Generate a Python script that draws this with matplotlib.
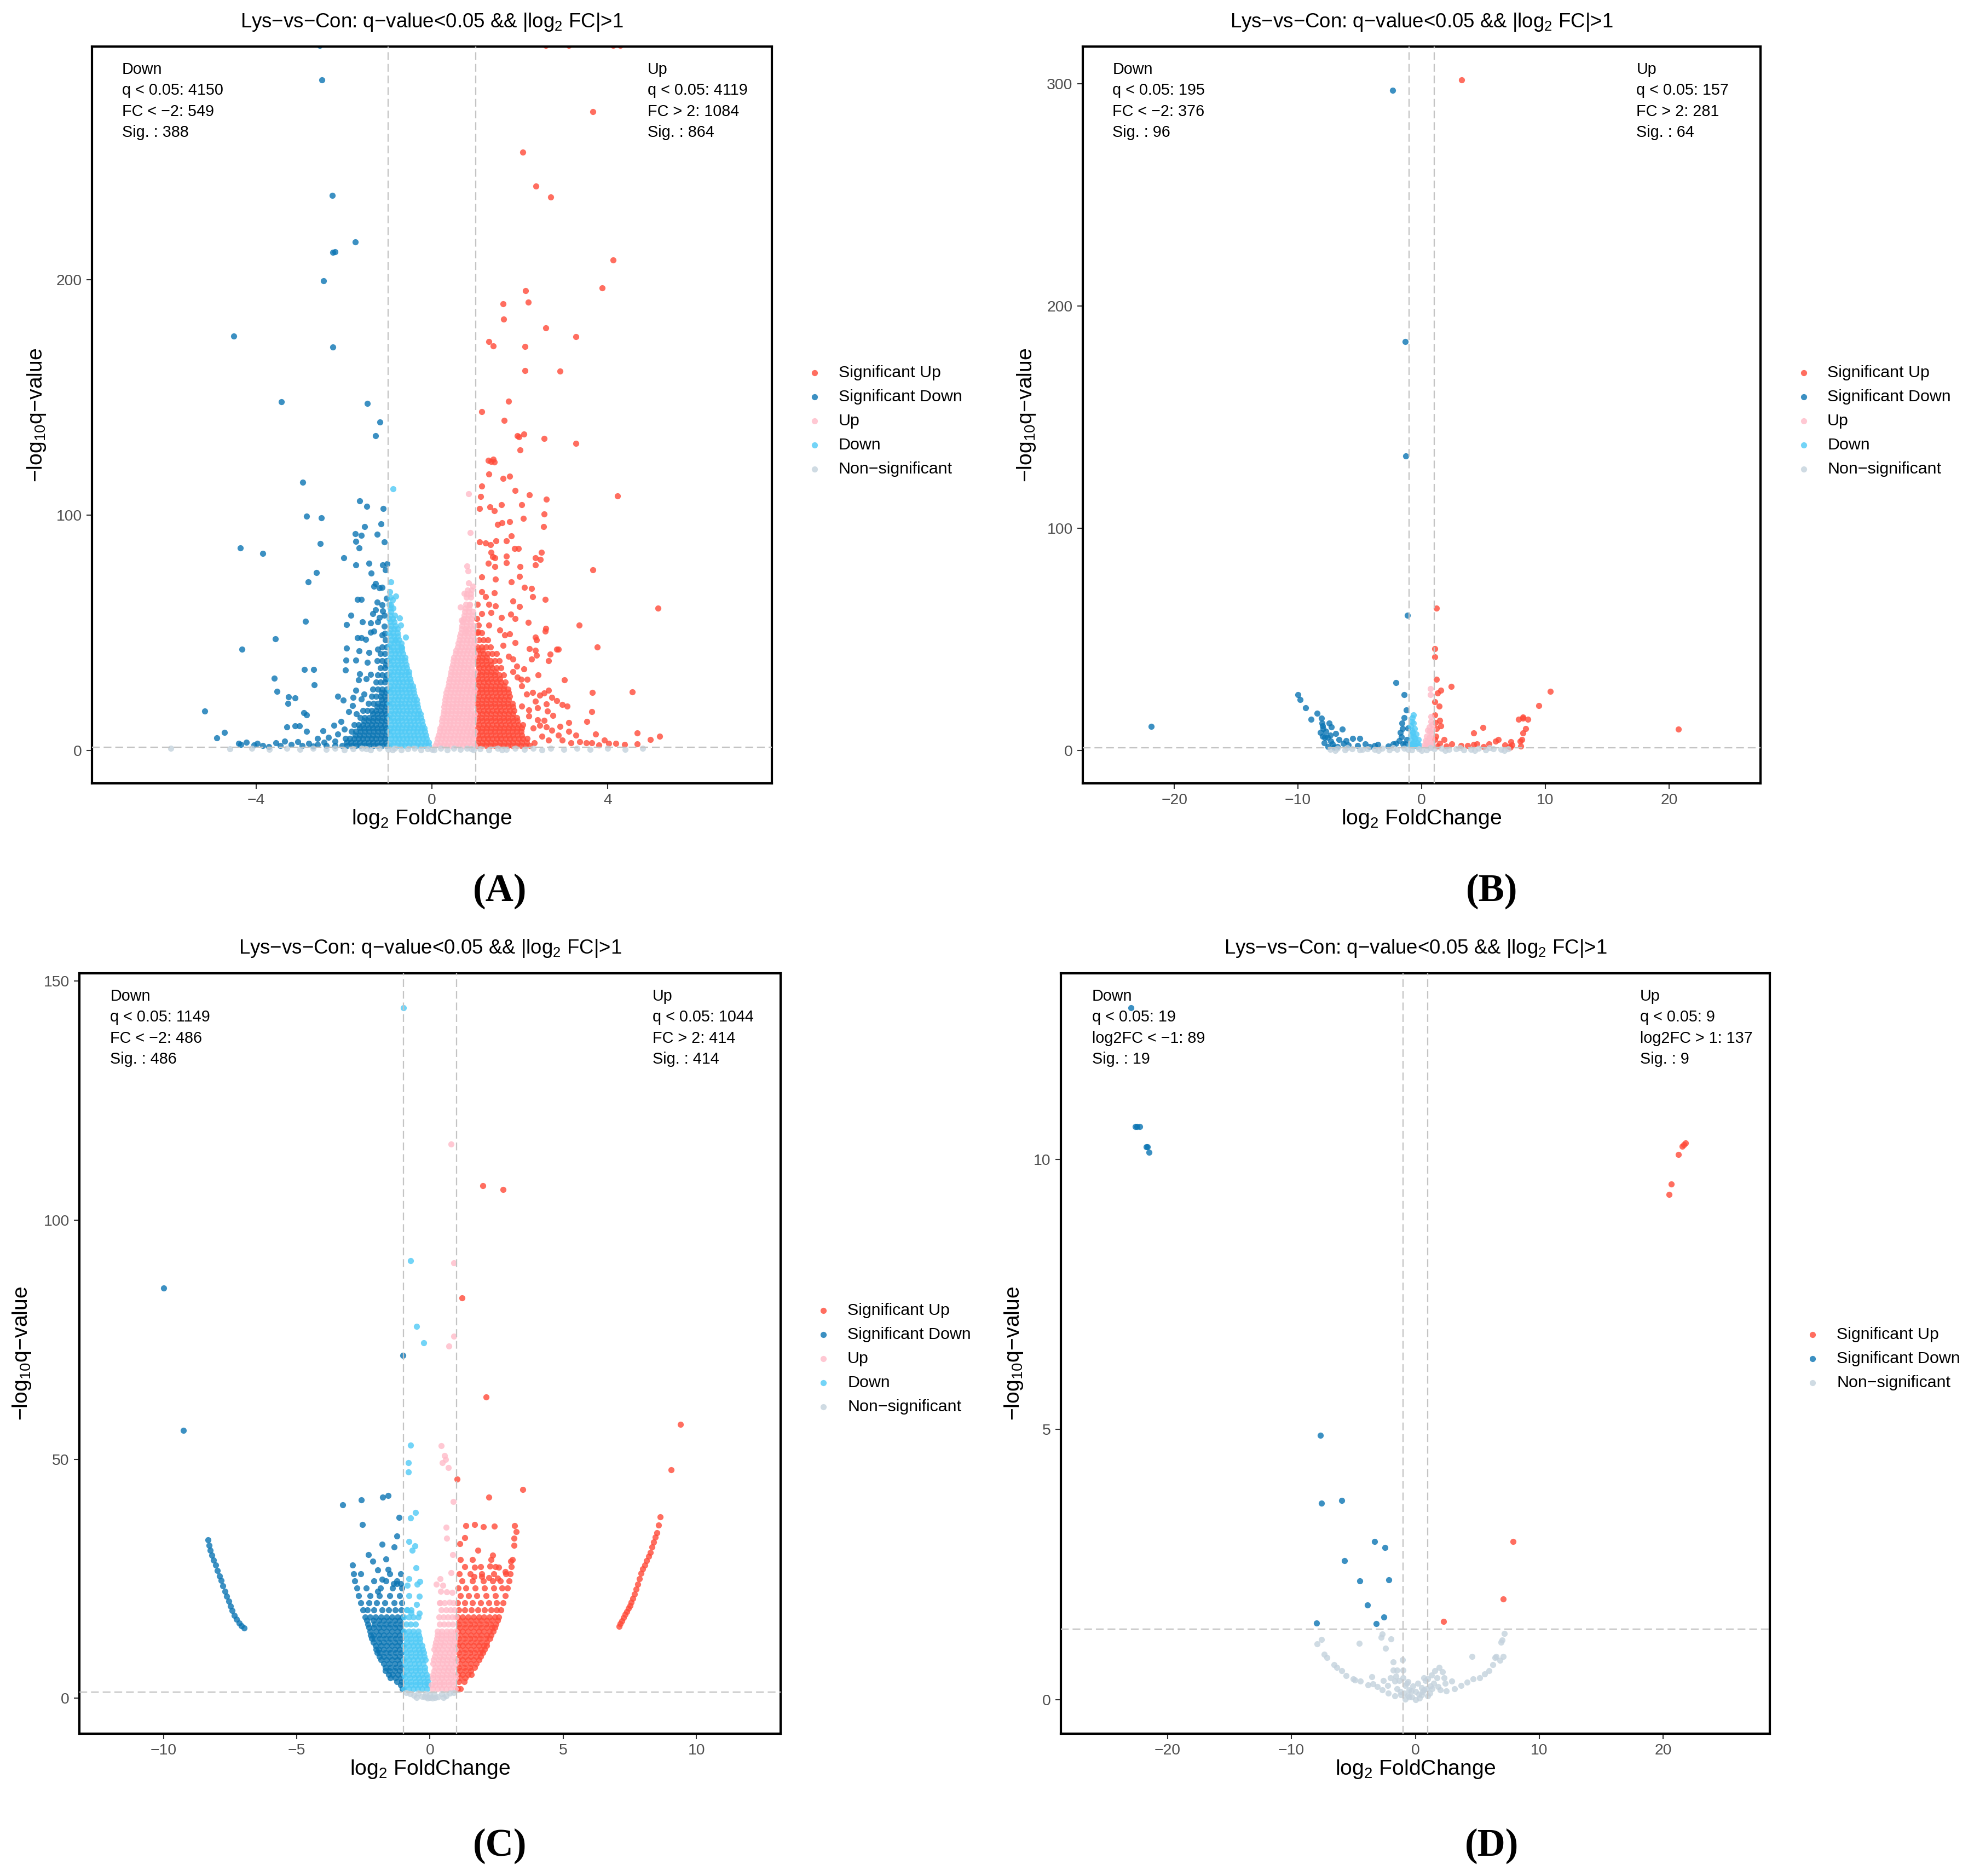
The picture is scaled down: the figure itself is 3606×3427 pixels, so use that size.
"""
Quatro volcano plots (Lys-vs-Con) montados numa figura só, painéis (A)-(D).
Os pontos foram lidos a olho da figura original: pontos isolados como (x, y)
e as nuvens densas como faixas (y, [x, x, ...]).

Saída: out.png
"""

import matplotlib.pyplot as plt
from matplotlib.lines import Line2D

# ------------------------------------------------------------------
# Painel A
# ------------------------------------------------------------------
A_SIG_UP = [
    (2.59, 299.5), (3.12, 299.5), (4.12, 299.5), (4.29, 299.5),
    (3.66, 271.4), (2.07, 254.1), (2.37, 239.6), (2.70, 235.1),
    (4.13, 208.3), (3.88, 196.4), (2.13, 195.3), (2.19, 190.3),
    (1.62, 189.8), (1.63, 183.2), (2.59, 179.4), (3.28, 175.8),
    (1.30, 173.7), (1.40, 171.8), (2.12, 171.5), (2.12, 161.3),
    (2.92, 161.1), (1.75, 148.4), (1.14, 143.9), (1.64, 140.2),
    (1.95, 133.6), (2.09, 134.3), (1.98, 133.3), (2.55, 132.5),
    (3.28, 130.5), (2.01, 127.7), (1.28, 123.1), (1.39, 123.7),
    (1.34, 122.8), (1.42, 122.4), (1.30, 117.5), (1.62, 115.6),
    (1.77, 116.4), (1.14, 112.3), (1.90, 110.4), (1.11, 107.9),
    (4.23, 108.0), (2.22, 108.5), (2.61, 106.7), (1.09, 102.7),
    (1.32, 103.4), (1.42, 101.8), (1.58, 104.3), (2.04, 104.3),
    (2.55, 100.4), (2.08, 98.6), (1.50, 95.9), (1.60, 96.8),
    (1.77, 97.2), (2.54, 95.1), (1.09, 88.5), (1.22, 88.0),
    (1.33, 87.4), (1.46, 89.0), (1.70, 89.0), (1.81, 91.2),
    (1.88, 85.8), (1.97, 85.8), (1.35, 84.2), (1.38, 82.3),
    (1.43, 81.9), (1.70, 82.6), (2.49, 84.2), (2.35, 81.9),
    (2.47, 81.0), (3.66, 76.8), (1.28, 79.4), (1.43, 78.0),
    (1.70, 79.7), (2.01, 78.0), (2.35, 78.7), (1.14, 73.6),
    (1.44, 72.7), (1.81, 71.6), (1.99, 73.8), (2.11, 69.3),
    (2.27, 68.8), (2.29, 65.2), (2.58, 64.2), (1.13, 67.4),
    (1.42, 67.0), (1.22, 65.2), (1.03, 62.0), (1.30, 62.0),
    (1.44, 61.3), (1.84, 63.4), (2.00, 61.2), (5.15, 60.4),
    (1.14, 58.1), (1.35, 58.6), (1.58, 56.5), (1.79, 57.8),
    (1.89, 55.9), (2.19, 54.4), (2.59, 51.7), (2.58, 50.6),
    (3.35, 53.1), (1.06, 53.3), (1.30, 53.3), (1.54, 51.2),
    (1.66, 49.0), (1.77, 49.6), (2.35, 48.0), (2.38, 46.9),
    (1.90, 45.8), (3.76, 44.0), (2.84, 42.9), (2.88, 42.9),
    (2.69, 40.8), (2.65, 38.2), (2.22, 43.2), (2.36, 42.6),
    (2.38, 40.5), (2.27, 38.9), (1.85, 38.9), (2.09, 34.6),
    (1.93, 35.7), (3.01, 29.9), (2.42, 32.0), (2.03, 30.1),
    (2.17, 30.1), (3.65, 24.7), (4.56, 24.9), (2.66, 25.6),
    (2.45, 23.5), (2.29, 24.5), (2.55, 24.3), (2.73, 22.4),
    (2.84, 21.1), (2.96, 19.4), (3.08, 18.7), (2.61, 19.7),
    (2.41, 18.1), (2.21, 17.1), (2.05, 18.7), (3.64, 16.5),
    (2.63, 16.8), (2.75, 14.9), (2.55, 12.8), (2.45, 10.7),
    (3.53, 12.3), (3.12, 11.7), (2.92, 10.1), (3.12, 8.0),
    (2.73, 8.5), (2.88, 6.4), (3.73, 6.9), (3.93, 4.3),
    (4.03, 3.0), (4.19, 3.0), (4.39, 2.6), (4.67, 2.7),
    (4.67, 7.5), (4.97, 4.5), (5.18, 5.9), (3.28, 6.4),
    (3.36, 3.7), (3.52, 3.2), (3.64, 3.2), (3.80, 2.3),
    (2.96, 4.3), (3.16, 3.2), (2.65, 4.3), (2.33, 3.2),
    (2.30, 9.5), (2.40, 13.0), (2.20, 14.5), (2.50, 6.0),
    (2.60, 10.0), (2.35, 21.0), (2.15, 24.0), (2.05, 27.5),
    (1.95, 31.0), (1.85, 33.5), (1.75, 40.0), (1.62, 44.5),
    (1.02, 56.0), (1.05, 50.5),
]
A_SIG_UP_FAIXAS = [
    (2, [1.03, 1.13, 1.23, 1.33, 1.43, 1.53, 1.63, 1.73, 1.83, 1.93, 2.03, 2.13, 2.23]),
    (3.5, [1.05, 1.15, 1.25, 1.35, 1.45, 1.55, 1.65, 1.75, 1.85, 1.95, 2.05, 2.15]),
    (5, [1.07, 1.17, 1.27, 1.37, 1.47, 1.57, 1.67, 1.77, 1.87, 1.97, 2.07, 2.17]),
    (6.5, [1.05, 1.15, 1.25, 1.35, 1.45, 1.55, 1.65, 1.75, 1.85, 1.95, 2.05]),
    (8, [1.03, 1.13, 1.23, 1.33, 1.43, 1.53, 1.63, 1.73, 1.83, 1.93, 2.03]),
    (9.5, [1.05, 1.15, 1.25, 1.35, 1.45, 1.55, 1.65, 1.75, 1.85, 1.95, 2.05]),
    (11, [1.07, 1.17, 1.27, 1.37, 1.47, 1.57, 1.67, 1.77, 1.87, 1.97, 2.07]),
    (12.5, [1.05, 1.15, 1.25, 1.35, 1.45, 1.55, 1.65, 1.75, 1.85, 1.95]),
    (14, [1.03, 1.13, 1.23, 1.33, 1.43, 1.53, 1.63, 1.73, 1.83, 1.93]),
    (15.5, [1.05, 1.15, 1.25, 1.35, 1.45, 1.55, 1.65, 1.75, 1.85]),
    (17, [1.07, 1.17, 1.27, 1.37, 1.47, 1.57, 1.67, 1.77, 1.87]),
    (18.5, [1.05, 1.15, 1.25, 1.35, 1.45, 1.55, 1.65, 1.75, 1.85]),
    (20, [1.03, 1.13, 1.23, 1.33, 1.43, 1.53, 1.63, 1.73, 1.83]),
    (21.5, [1.05, 1.15, 1.25, 1.35, 1.45, 1.55, 1.65, 1.75]),
    (23, [1.07, 1.17, 1.27, 1.37, 1.47, 1.57, 1.67, 1.77]),
    (24.5, [1.05, 1.15, 1.25, 1.35, 1.45, 1.55, 1.65, 1.75]),
    (26, [1.03, 1.13, 1.23, 1.33, 1.43, 1.53, 1.63, 1.73]),
    (27.5, [1.05, 1.15, 1.25, 1.35, 1.45, 1.55, 1.65]),
    (29, [1.07, 1.17, 1.27, 1.37, 1.47, 1.57, 1.67]),
    (30.5, [1.05, 1.15, 1.25, 1.35, 1.45, 1.55]),
    (32, [1.03, 1.13, 1.23, 1.33, 1.43, 1.53, 1.63]),
    (33.5, [1.05, 1.15, 1.25, 1.35, 1.45]),
    (35, [1.07, 1.17, 1.27, 1.37, 1.47, 1.57]),
    (36.5, [1.05, 1.15, 1.25, 1.35]),
    (38, [1.03, 1.13, 1.23, 1.33, 1.43, 1.53]),
    (39.5, [1.05, 1.15, 1.25]),
    (41, [1.07, 1.17, 1.27, 1.37, 1.47]),
    (42.5, [1.05, 1.15]),
    (44, [1.03, 1.13, 1.23, 1.33]),
    (47, [1.07, 1.17, 1.27]),
    (50, [1.03, 1.13]),
]

A_SIG_DOWN = [
    (-2.56, 299.5), (-2.50, 284.9), (-2.27, 235.8), (-1.75, 216.1),
    (-2.25, 211.6), (-2.21, 211.9), (-2.47, 199.5), (-4.51, 176.0),
    (-2.25, 171.3), (-3.43, 148.0), (-1.47, 147.4), (-1.18, 139.4),
    (-1.28, 133.7), (-2.94, 113.8), (-1.65, 106.0), (-1.48, 103.6),
    (-1.11, 102.8), (-2.85, 99.5), (-2.52, 98.9), (-1.53, 95.1),
    (-1.16, 96.3), (-1.75, 92.0), (-1.61, 91.3), (-1.25, 91.9),
    (-1.73, 88.7), (-1.09, 88.6), (-2.54, 87.8), (-1.66, 86.0),
    (-4.36, 85.9), (-3.85, 83.7), (-2.01, 81.9), (-1.73, 78.7),
    (-1.43, 79.4), (-1.12, 78.7), (-1.02, 79.3), (-1.06, 76.8),
    (-2.63, 75.5), (-2.82, 71.6), (-1.38, 75.2), (-1.32, 69.8),
    (-1.28, 70.9), (-1.14, 69.3), (-1.20, 69.0), (-1.70, 64.2),
    (-1.61, 64.2), (-1.04, 64.7), (-1.25, 62.9), (-1.14, 61.8),
    (-1.28, 59.7), (-1.34, 58.1), (-1.12, 59.2), (-1.09, 57.4),
    (-1.20, 56.5), (-2.88, 54.9), (-1.85, 57.5), (-1.94, 53.5),
    (-1.58, 54.6), (-1.39, 54.2), (-1.24, 54.6), (-1.09, 52.8),
    (-1.32, 50.6), (-1.39, 50.1), (-1.07, 49.7), (-1.14, 49.0),
    (-3.57, 47.4), (-1.70, 47.9), (-1.61, 47.8), (-1.51, 47.1),
    (-1.95, 43.5), (-1.66, 42.3), (-1.24, 43.0), (-4.33, 42.9),
    (-1.96, 38.4), (-1.73, 38.4), (-1.47, 37.3), (-1.43, 41.6),
    (-2.90, 34.4), (-2.69, 34.4), (-3.59, 30.6), (-2.68, 27.8),
    (-3.53, 25.0), (-3.27, 22.7), (-3.12, 22.2), (-3.28, 20.0),
    (-1.97, 34.1), (-1.65, 32.6), (-1.50, 30.4), (-1.67, 29.9),
    (-1.39, 32.2), (-2.14, 22.9), (-2.02, 21.3), (-1.80, 22.4),
    (-1.73, 25.5), (-1.61, 21.9), (-1.55, 24.0), (-5.17, 16.6),
    (-4.90, 5.3), (-4.72, 7.6), (-4.40, 3.0), (-4.23, 3.4),
    (-3.97, 3.0), (-3.71, 1.6), (-3.30, 10.0), (-3.12, 10.4),
    (-3.02, 10.5), (-2.85, 8.0), (-2.48, 8.4), (-2.92, 16.1),
    (-2.86, 15.0), (-2.23, 10.7), (-2.07, 12.3), (-1.89, 16.5),
    (-1.81, 19.0), (-1.72, 15.5), (-4.35, 2.5), (-4.05, 2.2),
    (-3.85, 2.0), (-3.55, 3.1), (-3.45, 2.0), (-3.35, 4.0),
    (-3.20, 2.5), (-3.05, 3.6), (-2.95, 2.0), (-2.80, 3.0),
    (-2.70, 1.8), (-2.60, 2.6), (-2.45, 3.5), (-2.35, 5.5),
    (-2.20, 4.0), (-2.15, 7.0), (-2.60, 5.0), (-2.00, 9.0),
]
A_SIG_DOWN_FAIXAS = [
    (2, [-1.03, -1.13, -1.23, -1.33, -1.43, -1.53, -1.63, -1.73, -1.83, -1.93, -2.05, -2.20, -2.40]),
    (3.5, [-1.05, -1.15, -1.25, -1.35, -1.45, -1.55, -1.65, -1.75, -1.85, -1.95]),
    (5, [-1.07, -1.17, -1.27, -1.37, -1.47, -1.57, -1.67, -1.77, -1.87, -1.97]),
    (6.5, [-1.05, -1.15, -1.25, -1.35, -1.45, -1.55, -1.65, -1.75]),
    (8, [-1.03, -1.13, -1.23, -1.33, -1.43, -1.53, -1.63, -1.73, -1.83]),
    (9.5, [-1.05, -1.15, -1.25, -1.35, -1.45, -1.55, -1.65]),
    (11, [-1.07, -1.17, -1.27, -1.37, -1.47, -1.57, -1.67, -1.77]),
    (12.5, [-1.05, -1.15, -1.25, -1.35, -1.45, -1.55]),
    (14, [-1.03, -1.13, -1.23, -1.33, -1.43, -1.53, -1.63]),
    (15.5, [-1.05, -1.15, -1.25, -1.35]),
    (17, [-1.07, -1.17, -1.27, -1.37, -1.47, -1.57]),
    (18.5, [-1.05, -1.15, -1.25]),
    (20, [-1.03, -1.13, -1.23, -1.33, -1.45]),
    (21.5, [-1.05, -1.15]),
    (23, [-1.07, -1.17, -1.27, -1.37]),
    (24.5, [-1.05, -1.15]),
    (26, [-1.03, -1.13, -1.23, -1.35]),
    (29, [-1.07, -1.17, -1.27]),
    (30.5, [-1.05]),
    (32, [-1.03, -1.13, -1.23]),
    (35, [-1.07, -1.17]),
    (36.5, [-1.05]),
    (38, [-1.03, -1.13, -1.25]),
    (41, [-1.07, -1.17]),
    (44, [-1.03, -1.13]),
    (47, [-1.06]),
]

A_UP = [
    (0.84, 109.0), (0.87, 92.5), (0.80, 78.4), (0.82, 76.2), (0.93, 69.8),
    (0.74, 66.6), (0.65, 60.8), (0.86, 61.8), (0.67, 55.4), (0.79, 50.6),
]
A_UP_FAIXAS = [
    (2, [0.08, 0.17, 0.26, 0.35, 0.44, 0.53, 0.62, 0.71, 0.80, 0.89, 0.97]),
    (3.5, [0.11, 0.20, 0.29, 0.38, 0.47, 0.56, 0.65, 0.74, 0.83, 0.92]),
    (5, [0.13, 0.22, 0.31, 0.40, 0.49, 0.58, 0.67, 0.76, 0.85, 0.94]),
    (6.5, [0.15, 0.24, 0.33, 0.42, 0.51, 0.60, 0.69, 0.78, 0.87, 0.96]),
    (8, [0.17, 0.26, 0.35, 0.44, 0.53, 0.62, 0.71, 0.80, 0.89, 0.97]),
    (9.5, [0.19, 0.28, 0.37, 0.46, 0.55, 0.64, 0.73, 0.82, 0.91]),
    (11, [0.22, 0.31, 0.40, 0.49, 0.58, 0.67, 0.76, 0.85, 0.94]),
    (12.5, [0.23, 0.32, 0.41, 0.50, 0.59, 0.68, 0.77, 0.86, 0.95]),
    (14, [0.24, 0.33, 0.42, 0.51, 0.60, 0.69, 0.78, 0.87, 0.96]),
    (15.5, [0.26, 0.35, 0.44, 0.53, 0.62, 0.71, 0.80, 0.89, 0.97]),
    (17, [0.27, 0.36, 0.45, 0.54, 0.63, 0.72, 0.81, 0.90]),
    (18.5, [0.28, 0.37, 0.46, 0.55, 0.64, 0.73, 0.82, 0.91]),
    (20, [0.29, 0.38, 0.47, 0.56, 0.65, 0.74, 0.83, 0.92]),
    (21.5, [0.30, 0.39, 0.48, 0.57, 0.66, 0.75, 0.84, 0.93]),
    (23, [0.31, 0.40, 0.49, 0.58, 0.67, 0.76, 0.85, 0.94]),
    (24.5, [0.33, 0.42, 0.51, 0.60, 0.69, 0.78, 0.87, 0.96]),
    (26, [0.35, 0.44, 0.53, 0.62, 0.71, 0.80, 0.89, 0.97]),
    (27.5, [0.37, 0.46, 0.55, 0.64, 0.73, 0.82, 0.91]),
    (29, [0.39, 0.48, 0.57, 0.66, 0.75, 0.84, 0.93]),
    (30.5, [0.40, 0.49, 0.58, 0.67, 0.76, 0.85, 0.94]),
    (32, [0.42, 0.51, 0.60, 0.69, 0.78, 0.87, 0.96]),
    (33.5, [0.43, 0.52, 0.61, 0.70, 0.79, 0.88, 0.97]),
    (35, [0.45, 0.54, 0.63, 0.72, 0.81, 0.90]),
    (36.5, [0.47, 0.56, 0.65, 0.74, 0.83, 0.92]),
    (38, [0.48, 0.57, 0.66, 0.75, 0.84, 0.93]),
    (39.5, [0.50, 0.59, 0.68, 0.77, 0.86, 0.95]),
    (41, [0.53, 0.62, 0.71, 0.80, 0.89, 0.97]),
    (42.5, [0.55, 0.64, 0.73, 0.82, 0.91]),
    (44, [0.58, 0.67, 0.76, 0.85, 0.94]),
    (45.5, [0.60, 0.69, 0.78, 0.87, 0.96]),
    (47, [0.62, 0.71, 0.80, 0.89, 0.97]),
    (48.5, [0.64, 0.73, 0.82, 0.91]),
    (50, [0.66, 0.75, 0.84, 0.93]),
    (51.5, [0.67, 0.76, 0.85, 0.94]),
    (53, [0.69, 0.78, 0.87, 0.96]),
    (54.5, [0.70, 0.79, 0.88]),
    (56, [0.72, 0.81, 0.90]),
    (57.5, [0.74, 0.83, 0.92]),
    (59, [0.75, 0.84, 0.93]),
    (60.5, [0.76, 0.85]),
    (62, [0.77, 0.86]),
    (65, [0.79, 0.88]),
    (66.5, [0.80, 0.89]),
    (68, [0.81, 0.90]),
    (71, [0.83]),
]

A_DOWN = [
    (-0.88, 111.1), (-0.94, 71.5), (-0.82, 65.6), (-0.94, 61.8), (-0.74, 56.3),
    (-0.71, 53.3), (-0.60, 48.0), (-0.84, 46.9), (-0.68, 43.7), (-0.96, 67.5),
    (-0.90, 64.0),
]
A_DOWN_FAIXAS = [
    (2, [-0.97, -0.88, -0.79, -0.70, -0.61, -0.52, -0.43, -0.34, -0.25, -0.16, -0.08]),
    (3.5, [-0.95, -0.86, -0.77, -0.68, -0.59, -0.50, -0.41, -0.32, -0.23, -0.14, -0.07]),
    (5, [-0.93, -0.84, -0.75, -0.66, -0.57, -0.48, -0.39, -0.30, -0.21, -0.12]),
    (6.5, [-0.95, -0.86, -0.77, -0.68, -0.59, -0.50, -0.41, -0.32, -0.23, -0.14]),
    (8, [-0.97, -0.88, -0.79, -0.70, -0.61, -0.52, -0.43, -0.34, -0.25, -0.16]),
    (9.5, [-0.95, -0.86, -0.77, -0.68, -0.59, -0.50, -0.41, -0.32, -0.23, -0.17]),
    (11, [-0.93, -0.84, -0.75, -0.66, -0.57, -0.48, -0.39, -0.30, -0.21]),
    (12.5, [-0.95, -0.86, -0.77, -0.68, -0.59, -0.50, -0.41, -0.32, -0.23]),
    (14, [-0.97, -0.88, -0.79, -0.70, -0.61, -0.52, -0.43, -0.34, -0.25]),
    (15.5, [-0.95, -0.86, -0.77, -0.68, -0.59, -0.50, -0.41, -0.32, -0.26]),
    (17, [-0.93, -0.84, -0.75, -0.66, -0.57, -0.48, -0.39, -0.30]),
    (18.5, [-0.95, -0.86, -0.77, -0.68, -0.59, -0.50, -0.41, -0.32]),
    (20, [-0.97, -0.88, -0.79, -0.70, -0.61, -0.52, -0.43, -0.34]),
    (21.5, [-0.95, -0.86, -0.77, -0.68, -0.59, -0.50, -0.41, -0.35]),
    (23, [-0.93, -0.84, -0.75, -0.66, -0.57, -0.48, -0.39]),
    (24.5, [-0.95, -0.86, -0.77, -0.68, -0.59, -0.50, -0.41]),
    (26, [-0.97, -0.88, -0.79, -0.70, -0.61, -0.52, -0.43]),
    (27.5, [-0.95, -0.86, -0.77, -0.68, -0.59, -0.50, -0.44]),
    (29, [-0.93, -0.84, -0.75, -0.66, -0.57, -0.48]),
    (30.5, [-0.95, -0.86, -0.77, -0.68, -0.59, -0.50]),
    (32, [-0.97, -0.88, -0.79, -0.70, -0.61, -0.52]),
    (33.5, [-0.95, -0.86, -0.77, -0.68, -0.59, -0.52]),
    (35, [-0.93, -0.84, -0.75, -0.66, -0.57]),
    (36.5, [-0.95, -0.86, -0.77, -0.68, -0.59]),
    (38, [-0.97, -0.88, -0.79, -0.70, -0.61]),
    (39.5, [-0.95, -0.86, -0.77, -0.68, -0.61]),
    (41, [-0.93, -0.84, -0.75, -0.66]),
    (42.5, [-0.95, -0.86, -0.77, -0.68]),
    (44, [-0.97, -0.88, -0.79, -0.70]),
    (45.5, [-0.95, -0.86, -0.77, -0.70]),
    (47, [-0.93, -0.84, -0.75]),
    (48.5, [-0.95, -0.86, -0.77]),
    (50, [-0.97, -0.88, -0.79]),
    (51.5, [-0.95, -0.86, -0.78]),
    (53, [-0.93, -0.84]),
    (54.5, [-0.95, -0.86]),
    (56, [-0.97, -0.88]),
    (57.5, [-0.95, -0.85]),
    (59, [-0.93]),
    (60.5, [-0.95, -0.88]),
    (62, [-0.97]),
    (65, [-0.95]),
]

A_NS = [
    (-5.95, 1.0), (-4.60, 0.6), (-4.10, 0.8), (-3.70, 0.5), (-3.30, 0.9),
    (-3.00, 0.4), (-2.70, 0.8), (-2.40, 0.5), (-2.20, 1.0), (-2.00, 0.3),
    (-1.80, 0.7), (-1.60, 1.0), (-1.40, 0.3), (-1.20, 0.8), (-1.00, 0.4),
    (-0.85, 0.9), (-0.70, 0.2), (-0.55, 0.6), (-0.40, 1.0), (-0.25, 0.3),
    (-0.10, 0.7), (0.05, 0.1), (0.20, 0.8), (0.35, 0.3), (0.50, 0.9),
    (0.65, 0.4), (0.80, 1.0), (0.95, 0.2), (1.10, 0.7), (1.30, 0.3),
    (1.50, 0.9), (1.70, 0.4), (1.90, 1.0), (2.10, 0.5), (2.30, 0.9),
    (2.50, 0.3), (2.70, 0.8), (3.00, 0.5), (3.30, 1.0), (3.60, 0.4),
    (4.00, 0.8), (4.40, 0.5), (4.80, 0.9), (-0.90, 0.1), (0.00, 0.5),
    (0.90, 0.6), (-1.50, 0.6), (1.60, 0.2),
]

# ------------------------------------------------------------------
# Painel B
# ------------------------------------------------------------------
B_SIG_UP = [
    (3.25, 301.7), (1.20, 64.1), (1.05, 45.8), (1.07, 42.1), (1.20, 32.0),
    (2.37, 28.8), (1.57, 27.0), (1.27, 25.9), (1.07, 21.9), (1.40, 20.0),
    (1.07, 16.0), (1.45, 13.6), (1.57, 11.1), (1.20, 9.9), (1.07, 4.9),
    (1.82, 4.8), (1.45, 3.3), (2.45, 2.9), (3.20, 2.1), (3.70, 2.2),
    (4.20, 2.6), (4.45, 2.9), (4.96, 10.3), (4.21, 7.8), (5.46, 2.9),
    (5.96, 4.1), (6.21, 4.8), (6.71, 2.5), (7.21, 3.9), (7.09, 1.6),
    (7.16, 1.4), (7.96, 4.1), (8.09, 4.9), (8.21, 7.8), (8.42, 9.9),
    (7.84, 14.0), (8.21, 14.4), (8.59, 14.0), (8.17, 15.0), (9.49, 20.1),
    (10.42, 26.5), (20.74, 9.6), (1.15, 6.5), (1.30, 2.0), (2.00, 2.0),
    (1.10, 12.5), (7.30, 2.5), (8.00, 2.0), (5.00, 1.8),
]
B_SIG_DOWN = [
    (-2.34, 297.2), (-1.32, 184.1), (-1.27, 132.5), (-1.13, 60.8),
    (-2.06, 30.6), (-1.43, 25.2), (-1.23, 18.1), (-1.43, 14.8),
    (-1.61, 12.2), (-1.56, 9.9), (-1.71, 8.1), (-1.66, 6.2),
    (-21.86, 10.8), (-10.00, 25.1), (-9.83, 22.8), (-9.40, 19.1),
    (-8.45, 16.7), (-8.95, 14.1), (-8.12, 14.4), (-8.07, 12.3),
    (-7.49, 12.2), (-7.32, 10.7), (-7.95, 9.9), (-6.40, 9.7),
    (-6.95, 7.6), (-8.02, 6.4), (-7.82, 5.8), (-7.37, 4.1),
    (-7.20, 2.9), (-5.56, 5.5), (-4.99, 5.3), (-6.32, 3.3),
    (-5.94, 2.5), (-5.19, 2.3), (-4.57, 2.9), (-3.81, 2.3),
    (-3.56, 2.6), (-2.31, 2.9), (-2.06, 3.3), (-1.31, 2.9),
    (-7.57, 1.6), (-6.82, 1.6), (-7.07, 1.5), (-8.00, 11.0),
    (-7.75, 8.5), (-7.60, 6.0), (-7.90, 3.5), (-8.20, 8.0),
    (-7.40, 7.0), (-6.70, 5.0), (-6.10, 4.5), (-1.80, 4.5),
    (-1.50, 3.0), (-1.20, 5.0), (-1.10, 10.0), (-2.70, 1.9), (-4.20, 1.8),
]
B_UP = [
    (0.70, 27.9), (0.72, 25.1), (0.75, 15.2), (0.82, 11.5), (0.50, 9.0),
    (0.65, 8.5), (0.80, 7.5), (0.40, 6.5), (0.60, 6.0), (0.85, 5.5),
    (0.45, 4.0), (0.70, 3.5), (0.90, 3.0), (0.35, 2.2), (0.55, 2.0),
    (0.80, 1.8), (0.60, 10.5), (0.90, 9.5), (0.75, 13.0), (0.20, 2.5),
    (0.30, 4.5),
]
B_DOWN = [
    (-0.76, 14.8), (-0.68, 12.3), (-0.90, 11.0), (-0.56, 9.9), (-0.80, 9.0),
    (-0.43, 7.4), (-0.90, 7.0), (-0.68, 6.5), (-0.85, 4.5), (-0.60, 4.0),
    (-0.35, 3.5), (-0.92, 2.5), (-0.72, 2.0), (-0.50, 2.2), (-0.30, 1.8),
    (-0.65, 16.0), (-0.80, 13.0), (-0.70, 8.0), (-0.55, 5.5), (-0.75, 3.0),
    (-0.20, 2.5), (-0.25, 5.0),
]
B_NS = [
    (-7.4, 0.5), (-6.8, 0.9), (-6.2, 0.3), (-5.6, 0.7), (-5.0, 0.2),
    (-4.4, 0.8), (-3.8, 0.4), (-3.2, 0.9), (-2.6, 0.2), (-2.0, 0.6),
    (-1.4, 1.0), (-0.8, 0.3), (-0.2, 0.8), (0.4, 0.2), (1.0, 0.7),
    (1.6, 1.0), (2.2, 0.4), (2.8, 0.8), (3.4, 0.2), (4.0, 0.6),
    (4.6, 1.0), (5.2, 0.3), (5.8, 0.8), (6.4, 0.4), (7.0, 0.7),
    (-7.0, 0.1), (-6.0, 1.1), (-4.8, 0.5), (-3.5, 0.1), (-2.3, 1.1),
    (-1.1, 0.6), (0.0, 0.1), (0.7, 1.2), (1.9, 0.1), (3.1, 1.1),
    (4.3, 0.1), (5.5, 1.1), (6.7, 0.1),
]

# ------------------------------------------------------------------
# Painel C
# ------------------------------------------------------------------
C_SIG_UP = [
    (1.98, 107.2), (2.74, 106.4), (1.20, 83.7), (2.10, 63.0), (3.48, 43.6),
    (2.21, 42.0), (1.02, 45.8), (1.35, 36.1), (1.68, 36.3), (2.01, 35.9),
    (2.41, 36.0), (3.18, 36.1), (3.23, 34.8), (3.15, 33.5), (3.15, 32.0),
    (1.31, 33.6), (1.13, 32.3), (1.79, 30.9), (2.36, 29.9), (3.03, 28.7),
    (1.68, 27.4), (2.25, 27.6), (2.58, 27.4), (2.82, 26.5), (1.65, 25.5),
    (1.94, 25.5), (2.21, 25.2), (2.54, 25.1),
    # arco da direita
    (7.10, 15.0), (7.15, 15.6), (7.20, 16.2), (7.26, 16.9), (7.32, 17.5),
    (7.38, 18.1), (7.44, 18.8), (7.50, 19.4), (7.56, 20.1), (7.62, 20.9),
    (7.68, 21.8), (7.74, 22.8), (7.80, 23.9), (7.86, 25.0), (7.92, 26.1),
    (7.99, 27.0), (8.06, 27.9), (8.13, 28.8), (8.20, 29.7), (8.27, 30.5),
    (8.34, 31.6), (8.40, 32.7), (8.46, 33.7), (8.51, 34.6), (8.57, 36.2),
    (8.63, 37.9), (9.06, 47.8), (9.39, 57.3),
]
C_SIG_UP_FAIXAS = [
    (2.0, [1.03, 1.15]),
    (3.5, [1.08, 1.28]),
    (4.25, [1.13, 1.33]),
    (5.0, [1.03, 1.23, 1.43, 1.55]),
    (5.75, [1.13, 1.33, 1.53]),
    (6.5, [1.08, 1.28, 1.48, 1.68]),
    (7.25, [1.13, 1.33, 1.53, 1.73]),
    (8.0, [1.03, 1.23, 1.43, 1.63, 1.83]),
    (8.75, [1.13, 1.33, 1.53, 1.73, 1.90]),
    (9.5, [1.08, 1.28, 1.48, 1.68, 1.88, 1.98]),
    (10.25, [1.13, 1.33, 1.53, 1.73, 1.93, 2.05]),
    (11.0, [1.03, 1.23, 1.43, 1.63, 1.83, 2.03, 2.13]),
    (11.75, [1.13, 1.33, 1.53, 1.73, 1.93, 2.13]),
    (12.5, [1.08, 1.28, 1.48, 1.68, 1.88, 2.08, 2.26]),
    (13.25, [1.13, 1.33, 1.53, 1.73, 1.93, 2.13, 2.30]),
    (14.0, [1.03, 1.23, 1.43, 1.63, 1.83, 2.03, 2.23, 2.38]),
    (14.75, [1.13, 1.33, 1.53, 1.73, 1.93, 2.13, 2.33, 2.43]),
    (15.5, [1.08, 1.28, 1.48, 1.68, 1.88, 2.08, 2.28, 2.48]),
    (16.25, [1.13, 1.33, 1.53, 1.73, 1.93, 2.13, 2.33, 2.53]),
    (17.0, [1.03, 1.23, 1.43, 1.63, 1.83, 2.03, 2.23, 2.43, 2.58]),
    (18.5, [1.08, 1.30, 1.55, 1.80, 2.05, 2.30, 2.50, 2.66]),
    (20.0, [1.03, 1.30, 1.60, 1.90, 2.20, 2.50, 2.74]),
    (21.5, [1.15, 1.45, 1.75, 2.10, 2.45, 2.82]),
    (23.0, [1.05, 1.35, 1.70, 2.05, 2.40, 2.70, 2.90]),
    (24.5, [1.20, 1.60, 2.00, 2.35, 2.65, 2.96]),
    (26.0, [1.10, 1.50, 1.95, 2.40, 2.85, 3.01]),
    (27.5, [1.30, 1.90, 2.45, 3.06]),
    (29.0, [1.15, 1.60, 2.30, 3.10]),
]

C_SIG_DOWN = [
    (-10.00, 85.8), (-9.25, 56.0), (-1.01, 71.7),
    # arco da esquerda
    (-8.33, 33.1), (-8.29, 32.0), (-8.24, 31.0), (-8.18, 29.9), (-8.12, 28.9),
    (-8.05, 27.8), (-7.98, 26.7), (-7.91, 25.6), (-7.84, 24.6), (-7.77, 23.5),
    (-7.70, 22.4), (-7.63, 21.3), (-7.56, 20.3), (-7.49, 19.3), (-7.42, 18.3),
    (-7.34, 17.3), (-7.26, 16.5), (-7.17, 15.7), (-7.07, 15.1), (-6.98, 14.7),
    (-3.27, 40.5), (-2.57, 41.5), (-1.77, 42.0), (-1.58, 42.4), (-2.53, 36.3),
    (-1.16, 37.8), (-1.24, 33.9), (-1.80, 32.2), (-1.35, 31.6), (-2.32, 30.0),
    (-2.15, 28.7), (-1.65, 29.1), (-2.90, 27.9), (-1.96, 26.8), (-1.58, 26.9),
    (-1.80, 24.9), (-1.36, 24.0), (-1.25, 24.0), (-1.10, 24.0), (-1.97, 22.4),
]
C_SIG_DOWN_FAIXAS = [
    (2.0, [-1.03]),
    (2.75, [-1.10]),
    (3.5, [-1.05, -1.25]),
    (4.25, [-1.10, -1.30, -1.48]),
    (5.0, [-1.03, -1.20, -1.40, -1.55]),
    (5.75, [-1.13, -1.33, -1.53, -1.68]),
    (6.5, [-1.08, -1.28, -1.48, -1.68]),
    (7.25, [-1.13, -1.33, -1.53, -1.73]),
    (8.0, [-1.03, -1.23, -1.43, -1.63, -1.83]),
    (8.75, [-1.13, -1.33, -1.53, -1.73, -1.90]),
    (9.5, [-1.08, -1.28, -1.48, -1.68, -1.88, -1.98]),
    (10.25, [-1.13, -1.33, -1.53, -1.73, -1.93, -2.03]),
    (11.0, [-1.03, -1.23, -1.43, -1.63, -1.83, -2.05]),
    (11.75, [-1.13, -1.33, -1.53, -1.73, -1.93, -2.13]),
    (12.5, [-1.08, -1.28, -1.48, -1.68, -1.88, -2.08, -2.18]),
    (13.25, [-1.13, -1.33, -1.53, -1.73, -1.93, -2.13, -2.22]),
    (14.0, [-1.03, -1.23, -1.43, -1.63, -1.83, -2.03, -2.25]),
    (14.75, [-1.13, -1.33, -1.53, -1.73, -1.93, -2.13, -2.30]),
    (15.5, [-1.08, -1.28, -1.48, -1.68, -1.88, -2.08, -2.33]),
    (16.25, [-1.13, -1.33, -1.53, -1.73, -1.93, -2.13, -2.38]),
    (17.0, [-1.03, -1.23, -1.43, -1.63, -1.83, -2.05, -2.25, -2.43]),
    (18.5, [-1.08, -1.30, -1.55, -1.80, -2.10, -2.35, -2.52]),
    (20.0, [-1.05, -1.35, -1.70, -2.00, -2.30, -2.60]),
    (21.5, [-1.15, -1.50, -1.90, -2.25, -2.68]),
    (23.0, [-1.05, -1.40, -1.85, -2.40, -2.75]),
    (24.5, [-1.25, -1.65, -2.10, -2.82]),
    (26.0, [-1.10, -1.50, -2.60, -2.87]),
]

C_UP = [
    (0.80, 115.9), (0.90, 91.1), (0.90, 75.7), (0.71, 73.6), (0.42, 52.8),
    (0.54, 50.7), (0.46, 49.3), (0.58, 50.0), (0.69, 48.2), (0.87, 41.1),
    (0.61, 35.7), (0.63, 33.5), (0.85, 30.0), (0.79, 26.3), (0.38, 25.0),
    (0.23, 23.9), (0.48, 23.6), (0.40, 22.4), (0.62, 22.2), (0.83, 22.1),
    (0.38, 20.0), (0.72, 20.1),
]
C_UP_FAIXAS = [
    (2.0, [0.10, 0.27, 0.44, 0.61, 0.78, 0.95]),
    (2.75, [0.06, 0.19, 0.36, 0.53, 0.70, 0.87]),
    (3.5, [0.18, 0.35, 0.52, 0.69, 0.86]),
    (4.25, [0.10, 0.27, 0.44, 0.61, 0.78, 0.95]),
    (5.0, [0.12, 0.29, 0.46, 0.63, 0.80, 0.96]),
    (5.75, [0.16, 0.33, 0.50, 0.67, 0.84]),
    (6.5, [0.20, 0.37, 0.54, 0.71, 0.88]),
    (7.25, [0.12, 0.29, 0.46, 0.63, 0.80, 0.96]),
    (8.0, [0.14, 0.31, 0.48, 0.65, 0.82, 0.97]),
    (8.75, [0.18, 0.35, 0.52, 0.69, 0.86]),
    (9.5, [0.22, 0.39, 0.56, 0.73, 0.90]),
    (10.25, [0.15, 0.30, 0.47, 0.64, 0.81, 0.96]),
    (11.0, [0.19, 0.36, 0.53, 0.70, 0.87]),
    (11.75, [0.22, 0.40, 0.57, 0.74, 0.91]),
    (12.5, [0.26, 0.43, 0.60, 0.77, 0.94]),
    (13.25, [0.27, 0.44, 0.61, 0.78, 0.95]),
    (14.0, [0.28, 0.45, 0.62, 0.79, 0.96]),
    (15.5, [0.35, 0.52, 0.69, 0.86]),
    (17.0, [0.33, 0.50, 0.67, 0.84, 0.97]),
    (18.5, [0.42, 0.60, 0.78, 0.92]),
    (20.0, [0.36, 0.55, 0.88]),
]

C_DOWN = [
    (-0.99, 144.4), (-0.73, 91.5), (-0.50, 77.8), (-0.24, 74.3), (-0.72, 52.9),
    (-0.82, 49.3), (-0.82, 47.3), (-0.73, 37.7), (-0.54, 38.9), (-0.80, 32.8),
    (-0.57, 31.9), (-0.66, 30.9), (-0.52, 27.3), (-0.80, 25.0), (-0.37, 24.4),
    (-0.85, 23.6), (-0.48, 23.9), (-0.79, 21.5), (-0.40, 21.3), (-0.51, 19.6),
    (-0.85, 18.5), (-0.70, 17.9), (-0.41, 17.8),
]
C_DOWN_FAIXAS = [
    (2.0, [-0.97, -0.80, -0.63, -0.46, -0.29, -0.12]),
    (2.75, [-0.88, -0.71, -0.54, -0.37, -0.20, -0.07]),
    (3.5, [-0.90, -0.72, -0.55, -0.38, -0.21, -0.08]),
    (4.25, [-0.93, -0.76, -0.59, -0.42, -0.25, -0.10]),
    (5.0, [-0.97, -0.80, -0.63, -0.46, -0.29, -0.13]),
    (5.75, [-0.88, -0.71, -0.54, -0.37, -0.20]),
    (6.5, [-0.90, -0.72, -0.55, -0.38, -0.20]),
    (7.25, [-0.93, -0.76, -0.59, -0.42, -0.25]),
    (8.0, [-0.97, -0.80, -0.63, -0.46, -0.29, -0.18]),
    (8.75, [-0.88, -0.71, -0.54, -0.37, -0.22]),
    (9.5, [-0.90, -0.72, -0.55, -0.38, -0.24]),
    (10.25, [-0.93, -0.76, -0.59, -0.42, -0.27]),
    (11.0, [-0.97, -0.80, -0.63, -0.46, -0.30]),
    (11.75, [-0.88, -0.71, -0.54, -0.37]),
    (12.5, [-0.90, -0.72, -0.55, -0.38]),
    (13.25, [-0.93, -0.76, -0.59, -0.42]),
    (14.0, [-0.97, -0.80, -0.63, -0.45]),
    (15.5, [-0.90, -0.72, -0.55]),
    (17.0, [-0.97, -0.80, -0.62, -0.45]),
    (18.5, [-0.88, -0.70]),
]

C_NS = [
    (-0.75, 1.0), (-0.60, 0.6), (-0.45, 1.1), (-0.30, 0.4), (-0.15, 0.9),
    (0.00, 0.1), (0.15, 0.8), (0.30, 0.3), (0.45, 1.0), (0.60, 0.5),
    (0.75, 1.1), (-0.50, 0.2), (0.50, 0.2), (-0.20, 0.3), (0.20, 0.2),
    (0.00, 0.7), (-0.90, 1.2), (0.90, 1.2), (0.10, 0.0), (-0.10, 0.0),
]

# ------------------------------------------------------------------
# Painel D
# ------------------------------------------------------------------
D_SIG_UP = [
    (21.78, 10.30), (21.65, 10.27), (21.52, 10.24), (21.22, 10.09),
    (20.66, 9.54), (20.46, 9.35), (7.87, 2.93), (7.11, 1.86), (2.28, 1.45),
]
D_SIG_DOWN = [
    (-22.94, 12.80), (-22.60, 10.60), (-22.45, 10.60), (-22.25, 10.60),
    (-21.70, 10.23), (-21.60, 10.23), (-21.50, 10.13), (-7.66, 4.89),
    (-7.56, 3.63), (-5.94, 3.69), (-3.30, 2.93), (-2.44, 2.81),
    (-5.74, 2.57), (-4.47, 2.20), (-2.13, 2.22), (-3.86, 1.75),
    (-2.54, 1.53), (-7.97, 1.42), (-3.15, 1.41),
]
D_NS = [
    (-7.58, 1.11), (-7.92, 1.03), (-4.53, 1.04), (-2.67, 1.21), (-2.75, 1.15),
    (-1.95, 1.12), (-2.42, 0.95), (-7.37, 0.84), (-7.13, 0.78), (-6.58, 0.65),
    (-6.33, 0.60), (-5.92, 0.53), (-5.58, 0.44), (-5.00, 0.38), (-4.42, 0.34),
    (-3.42, 0.29), (-3.08, 0.24), (-2.67, 0.18), (-2.17, 0.12), (-1.67, 0.07),
    (-0.83, 0.01), (-1.80, 0.70), (-1.03, 0.74), (-1.80, 0.55), (-1.47, 0.54),
    (-1.58, 0.43), (-1.67, 0.34), (-2.25, 0.26), (-1.00, 0.40), (-0.58, 0.33),
    (-0.83, 0.26), (-0.33, 0.16), (0.00, 0.00), (0.67, 0.40), (1.00, 0.38),
    (1.58, 0.53), (2.17, 0.51), (1.75, 0.40), (2.33, 0.40), (2.92, 0.34),
    (0.67, 0.18), (1.33, 0.20), (1.83, 0.24), (2.50, 0.16), (0.50, 0.09),
    (1.00, 0.07), (3.17, 0.20), (3.67, 0.26), (4.17, 0.32), (4.67, 0.38),
    (5.17, 0.40), (5.58, 0.47), (5.92, 0.53), (6.25, 0.65), (6.42, 0.78),
    (6.83, 0.73), (7.08, 0.80), (6.50, 0.80), (6.92, 1.06), (7.00, 1.10),
    (7.17, 1.22), (4.58, 0.80), (0.33, 0.03), (-0.50, 0.05), (-1.17, 0.09),
    (1.17, 0.12), (2.00, 0.18), (-3.80, 0.27), (-4.90, 0.36),
    # miolo denso junto de (0, 0)
    (-1.50, 0.20), (-1.20, 0.15), (-0.90, 0.12), (-0.60, 0.08), (-0.30, 0.05),
    (0.30, 0.10), (0.60, 0.15), (0.90, 0.20), (1.20, 0.25), (1.50, 0.30),
    (-2.00, 0.40), (-1.30, 0.35), (-0.70, 0.30), (-0.20, 0.25), (0.20, 0.30),
    (0.80, 0.35), (1.30, 0.45), (-0.50, 0.18), (0.50, 0.22), (0.00, 0.15),
    (-1.00, 0.55), (1.90, 0.60), (2.40, 0.30), (-2.60, 0.35), (-3.50, 0.42),
]

# ------------------------------------------------------------------
# Estilo
# ------------------------------------------------------------------
CORES = {
    "sig_up": "#FF4A38",
    "sig_down": "#0B75B3",
    "up": "#FFBBC8",
    "down": "#50CAF6",
    "ns": "#C4D2DD",
}
ROTULOS = {
    "sig_up": "Significant Up",
    "sig_down": "Significant Down",
    "up": "Up",
    "down": "Down",
    "ns": "Non\u2212significant",
}
ORDEM_DESENHO = ["sig_down", "sig_up", "down", "up", "ns"]
ALFA = 0.8
DIAM_PONTO = 2.7          # diâmetro do ponto em pt
LIMIAR_Q = 1.301          # -log10(0.05)
COR_TRACO = "#C4C4C4"
TITULO = "Lys\u2212vs\u2212Con: q\u2212value<0.05 && |log$_2$ FC|>1"
ROTULO_X = "log$_2$ FoldChange"
ROTULO_Y = "\u2212log$_{10}$q\u2212value"
PASSO_LEGENDA = 44 / 3427

plt.rcParams["font.family"] = "Liberation Sans"
plt.rcParams["mathtext.default"] = "regular"


def juntar(pontos, faixas=()):
    """Junta os pontos isolados com as faixas (y, [x...]) das nuvens densas."""
    xs = [p[0] for p in pontos]
    ys = [p[1] for p in pontos]
    for y, lista_x in faixas:
        xs.extend(lista_x)
        ys.extend([y] * len(lista_x))
    return xs, ys


PAINEIS = [
    dict(
        letra="(A)", pos=[0.04659, 0.58243, 0.34443, 0.39276],
        xlim=(-7.74, 7.74), ylim=(-14.0, 299.0),
        xticks=[-4, 0, 4], yticks=[0, 100, 200], ylab_off=-24.3,
        grupos={
            "sig_up": juntar(A_SIG_UP, A_SIG_UP_FAIXAS),
            "sig_down": juntar(A_SIG_DOWN, A_SIG_DOWN_FAIXAS),
            "up": juntar(A_UP, A_UP_FAIXAS),
            "down": juntar(A_DOWN, A_DOWN_FAIXAS),
            "ns": juntar(A_NS),
        },
        txt_down=["Down", "q < 0.05: 4150", "FC < \u22122: 549", "Sig. : 388"],
        txt_up=["Up", "q < 0.05: 4119", "FC > 2: 1084", "Sig. : 864"],
        legenda=(0.4126, 0.4248, 1 - 681 / 3427),
        pos_letra=(0.2532, 0.5250),
    ),
    dict(
        letra="(B)", pos=[0.54853, 0.58243, 0.34332, 0.39276],
        xlim=(-27.4, 27.4), ylim=(-14.8, 316.8),
        xticks=[-20, -10, 0, 10, 20], yticks=[0, 100, 200, 300], ylab_off=-24.7,
        grupos={
            "sig_up": juntar(B_SIG_UP),
            "sig_down": juntar(B_SIG_DOWN),
            "up": juntar(B_UP),
            "down": juntar(B_DOWN),
            "ns": juntar(B_NS),
        },
        txt_down=["Down", "q < 0.05: 195", "FC < \u22122: 376", "Sig. : 96"],
        txt_up=["Up", "q < 0.05: 157", "FC > 2: 281", "Sig. : 64"],
        legenda=(0.9137, 0.9257, 1 - 681 / 3427),
        pos_letra=(0.7557, 0.5250),
    ),
    dict(
        letra="(C)", pos=[0.04021, 0.07587, 0.35524, 0.40531],
        xlim=(-13.16, 13.16), ylim=(-7.4, 151.6),
        xticks=[-10, -5, 0, 5, 10], yticks=[0, 50, 100, 150], ylab_off=-25.2,
        grupos={
            "sig_up": juntar(C_SIG_UP, C_SIG_UP_FAIXAS),
            "sig_down": juntar(C_SIG_DOWN, C_SIG_DOWN_FAIXAS),
            "up": juntar(C_UP, C_UP_FAIXAS),
            "down": juntar(C_DOWN, C_DOWN_FAIXAS),
            "ns": juntar(C_NS),
        },
        txt_down=["Down", "q < 0.05: 1149", "FC < \u22122: 486", "Sig. : 486"],
        txt_up=["Up", "q < 0.05: 1044", "FC > 2: 414", "Sig. : 414"],
        legenda=(0.4171, 0.4293, 1 - 2394 / 3427),
        pos_letra=(0.2532, 0.0160),
    ),
    dict(
        letra="(D)", pos=[0.53744, 0.07587, 0.35913, 0.40531],
        xlim=(-28.6, 28.6), ylim=(-0.63, 13.44),
        xticks=[-20, -10, 0, 10, 20], yticks=[0, 5, 10], ylab_off=-20.7,
        grupos={
            "sig_up": juntar(D_SIG_UP),
            "sig_down": juntar(D_SIG_DOWN),
            "ns": juntar(D_NS),
        },
        txt_down=["Down", "q < 0.05: 19", "log2FC < \u22121: 89", "Sig. : 19"],
        txt_up=["Up", "q < 0.05: 9", "log2FC > 1: 137", "Sig. : 9"],
        legenda=(0.9182, 0.9304, 1 - 2438 / 3427),
        pos_letra=(0.7557, 0.0160),
    ),
]


def bloco_texto(ax, x_frac, linhas):
    """Escreve o bloco de contagens (Down / Up) no topo do painel."""
    for i, linha in enumerate(linhas):
        ax.annotate(linha, xy=(x_frac, 1), xycoords="axes fraction",
                    xytext=(0, -10.0 - 9.25 * i), textcoords="offset points",
                    ha="left", va="center", fontsize=6.9, color="black")


def desenhar_legenda(fig, p):
    x_marc, x_txt, y0 = p["legenda"]
    chaves = [c for c in ["sig_up", "sig_down", "up", "down", "ns"] if c in p["grupos"]]
    for i, chave in enumerate(chaves):
        y = y0 - i * PASSO_LEGENDA
        fig.add_artist(Line2D([x_marc], [y], transform=fig.transFigure,
                              marker="o", linestyle="none", markersize=DIAM_PONTO,
                              markerfacecolor=CORES[chave], markeredgewidth=0,
                              alpha=ALFA))
        fig.text(x_txt, y, ROTULOS[chave], fontsize=7.3, ha="left", va="center")


def desenhar_painel(fig, p):
    ax = fig.add_axes(p["pos"])
    for chave in ORDEM_DESENHO:
        if chave not in p["grupos"]:
            continue
        xs, ys = p["grupos"][chave]
        ax.scatter(xs, ys, s=DIAM_PONTO ** 2, color=CORES[chave], alpha=ALFA,
                   linewidths=0, zorder=2)

    # linhas de corte: q = 0.05 e |log2 FC| = 1
    estilo = dict(color=COR_TRACO, lw=0.55, dashes=(6.2, 3.1), zorder=3)
    ax.axhline(LIMIAR_Q, **estilo)
    ax.axvline(-1, **estilo)
    ax.axvline(1, **estilo)

    ax.set_xlim(*p["xlim"])
    ax.set_ylim(*p["ylim"])
    ax.set_xticks(p["xticks"])
    ax.set_yticks(p["yticks"])
    ax.tick_params(direction="out", length=2.4, width=0.5, color="#333333",
                   labelsize=6.8, labelcolor="#4D4D4D", pad=2.0)
    for spine in ax.spines.values():
        spine.set_linewidth(1.0)
        spine.set_color("black")

    ax.annotate(TITULO, xy=(0.5, 1), xycoords="axes fraction",
                xytext=(0, 10.8), textcoords="offset points",
                ha="center", va="center", fontsize=8.8)
    ax.annotate(ROTULO_X, xy=(0.5, 0), xycoords="axes fraction",
                xytext=(0, -15.7), textcoords="offset points",
                ha="center", va="center", fontsize=9.4)
    ax.annotate(ROTULO_Y, xy=(0, 0.5), xycoords="axes fraction",
                xytext=(p["ylab_off"], 0), textcoords="offset points",
                ha="center", va="center", rotation=90, fontsize=9.4)

    bloco_texto(ax, 0.044, p["txt_down"])
    bloco_texto(ax, 0.817, p["txt_up"])

    desenhar_legenda(fig, p)
    fig.text(*p["pos_letra"], p["letra"], family="Liberation Serif",
             weight="bold", fontsize=17, ha="center", va="center")


def main():
    fig = plt.figure(figsize=(3606 / 300, 3427 / 300), dpi=300)
    for p in PAINEIS:
        desenhar_painel(fig, p)
    fig.savefig("out.png", dpi=300)
    plt.close(fig)


if __name__ == "__main__":
    main()
